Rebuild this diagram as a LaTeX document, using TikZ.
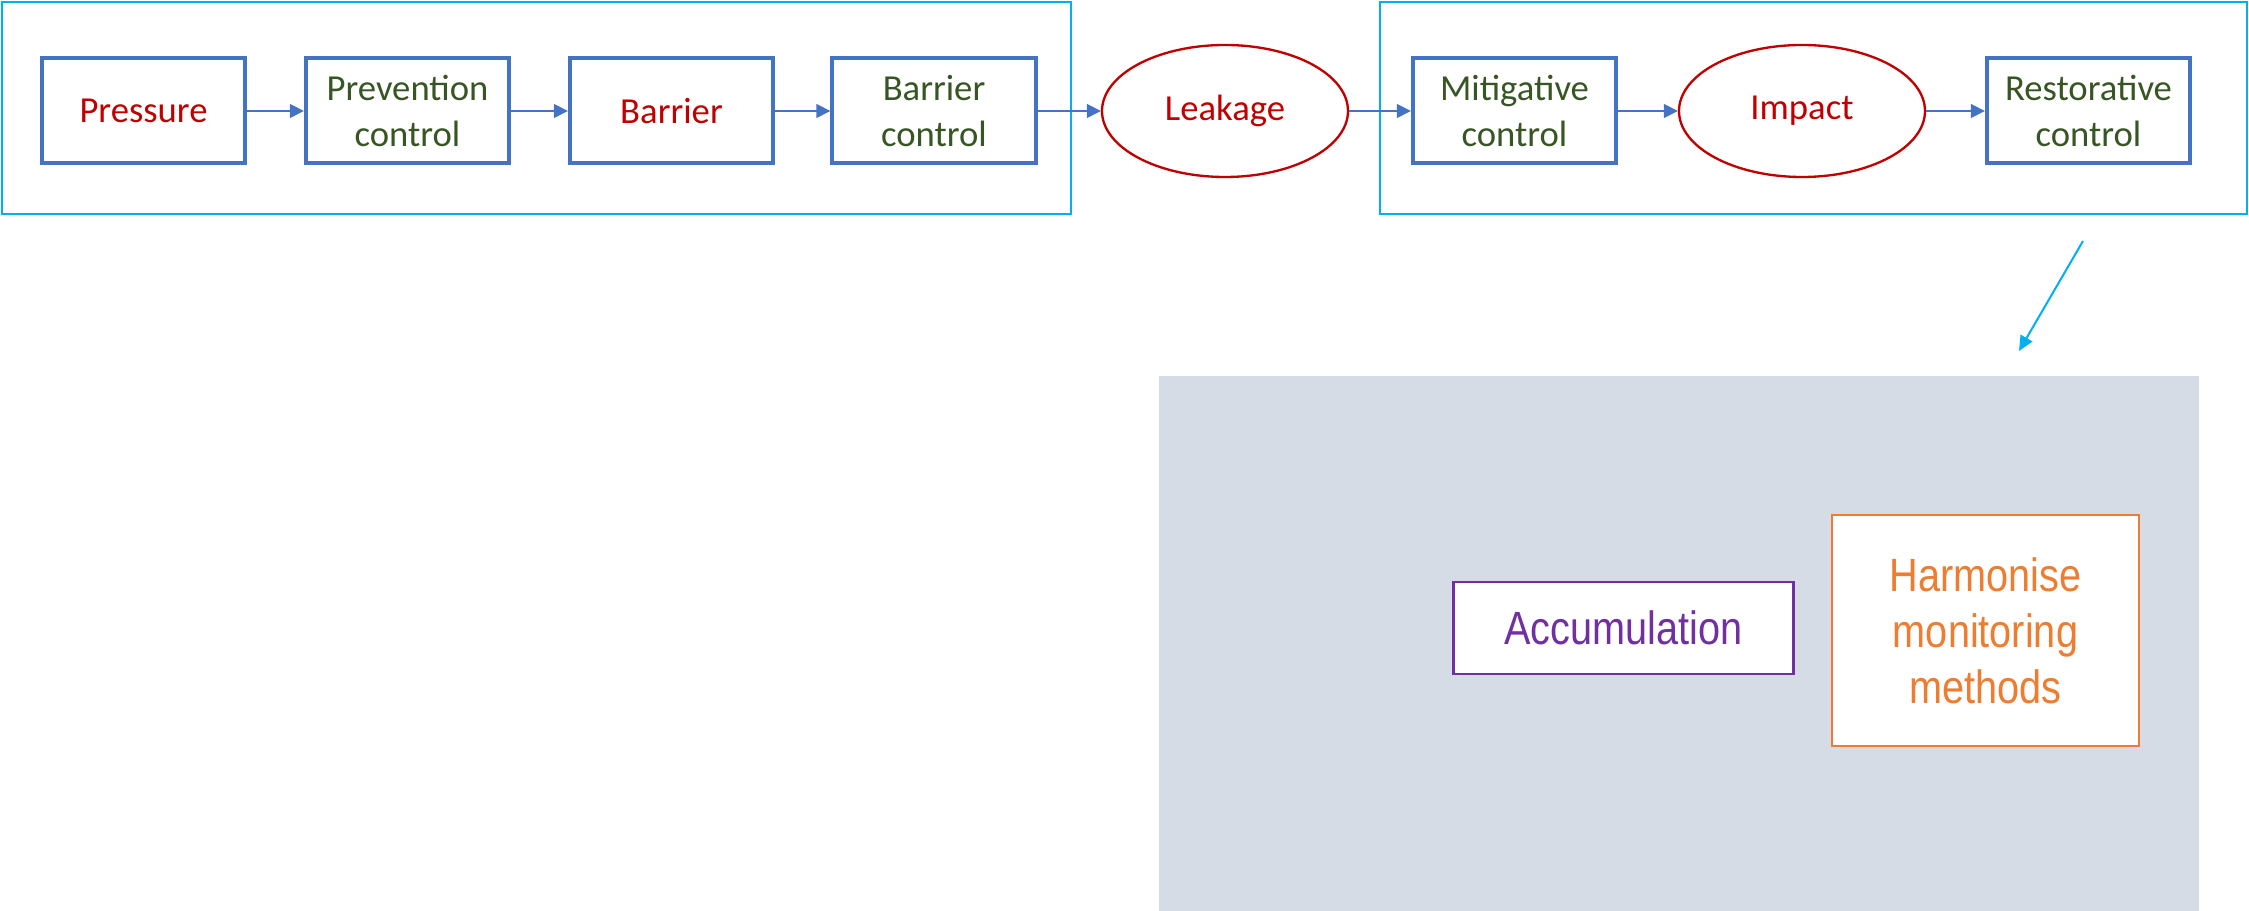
\documentclass[tikz,border=0pt]{standalone}
\usepackage{fontspec}
\setmainfont{Carlito}
\newfontfamily\narrowfont[FakeStretch=0.85]{Liberation Sans}
\usetikzlibrary{arrows.meta,shapes.geometric}
\definecolor{boxblue}{HTML}{4472C4}
\definecolor{darkred}{HTML}{C00000}
\definecolor{darkgreen}{HTML}{375623}
\definecolor{cyanline}{HTML}{00B0F0}
\definecolor{greyfill}{HTML}{D6DCE5}
\definecolor{purp}{HTML}{7030A0}
\definecolor{orng}{HTML}{ED7D31}
\tikzset{
  stepbox/.style={draw=boxblue, line width=1.2pt, fill=white, minimum width=61pt, minimum height=31.5pt, inner sep=0pt, align=center, font=\fontsize{11}{13.8}\selectfont},
  redtext/.style={text=darkred},
  greentext/.style={text=darkgreen},
  eventnode/.style={draw=darkred, line width=0.7pt, ellipse, minimum width=73.8pt, minimum height=39.6pt, inner sep=0pt, text=darkred, font=\fontsize{11}{13.8}\selectfont},
  flow/.style={draw=boxblue, line width=0.4pt, -{Triangle[length=4.2pt,width=4.2pt]}},
  groupbox/.style={draw=cyanline, line width=0.6pt},
  bottombox/.style={fill=white, line width=0.7pt, inner sep=0pt, align=center, font=\narrowfont\fontsize{14}{16.8}\selectfont}
}
\begin{document}
\begin{tikzpicture}[x=0.3pt,y=-0.3pt]
\useasboundingbox (0,0) rectangle (2249,911);
% group frames
\draw[groupbox] (2,2) rectangle (1071,214);
\draw[groupbox] (1380,2) rectangle (2247,214);
% grey panel
\fill[greyfill] (1159,376) rectangle (2199,911);
% top row
\node[stepbox, redtext] (pressure) at (143.5,111) {Pressure};
\node[stepbox, greentext] (prevention) at (407.5,111) {Prevention\\control};
\node[stepbox, redtext] (barrier) at (671.5,111) {Barrier};
\node[stepbox, greentext] (barrierctl) at (934,111) {Barrier\\control};
\node[eventnode] (leakage) at (1225,111) {Leakage};
\node[stepbox, greentext] (mitigative) at (1514.5,111) {Mitigative\\control};
\node[eventnode] (impact) at (1802,111) {Impact};
\node[stepbox, greentext] (restorative) at (2088.5,111) {Restorative\\control};
\draw[flow] (pressure) -- (prevention);
\draw[flow] (prevention) -- (barrier);
\draw[flow] (barrier) -- (barrierctl);
\draw[flow] (barrierctl) -- (leakage);
\draw[flow] (leakage) -- (mitigative);
\draw[flow] (mitigative) -- (impact);
\draw[flow] (impact) -- (restorative);
% pointer arrow
\coordinate (ptrstart) at (2083,241);
\coordinate (ptrend) at (2019,351);
\draw[draw=cyanline, line width=0.6pt, -{Triangle[length=4.5pt,width=4pt]}] (ptrstart) -- (ptrend);
% bottom boxes
\node[bottombox, draw=purp, text=purp, minimum width=102pt, minimum height=27.6pt] (accum) at (1623.5,628) {Accumulation};
\node[bottombox, draw=orng, text=orng, minimum width=92pt, minimum height=69.3pt] (harmon) at (1985.5,630.5) {Harmonise\\monitoring\\methods};
\end{tikzpicture}
\end{document}
